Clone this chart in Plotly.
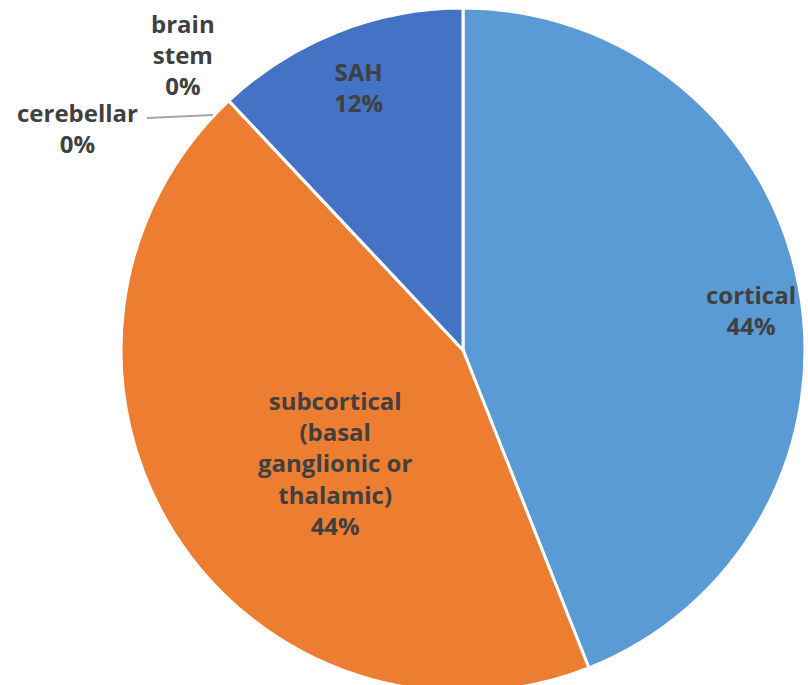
import plotly.graph_objects as go

labels = ["cortical", "subcortical<br>(basal<br>ganglionic or<br>thalamic)", "cerebellar", "brain<br>stem", "SAH"]
values = [11, 11, 0, 0, 3]
colors = ["#5B9BD5", "#ED7D31", "#A5A5A5", "#FFC000", "#4472C4"]

W, H = 808, 700
cx, cy, r = 463, 350, 342

fig = go.Figure(go.Pie(
    labels=labels, values=values, sort=False, direction="clockwise", rotation=0,
    marker=dict(colors=colors, line=dict(color="white", width=3)),
    textinfo="none",
    showlegend=False, hoverinfo="label+percent",
    domain=dict(x=[(cx - r) / W, (cx + r) / W], y=[1 - (cy + r) / H, 1 - (cy - r) / H]),
))

# data-label placement (pixel centres of each label block)
label_pos = [(751, 310), (335, 463), (77, 128), (183, 55), (358, 87)]
total = sum(values)
for i, (x, y) in enumerate(label_pos):
    fig.add_annotation(x=x / W, y=1 - y / H, xref="paper", yref="paper", showarrow=False,
                       xanchor="center", yanchor="middle",
                       text="<b>%s<br>%d%%</b>" % (labels[i], round(100 * values[i] / total)),
                       font=dict(family="Open Sans", size=24, color="#404040"))
fig.add_shape(type="line", xref="paper", yref="paper", x0=147 / W, y0=1 - 118 / H, x1=213 / W, y1=1 - 115 / H,
              line=dict(color="#A6A6A6", width=2))

fig.update_layout(width=W, height=H, margin=dict(l=0, r=0, t=0, b=0),
                  paper_bgcolor="white", plot_bgcolor="white")
fig.write_html("out.html")
